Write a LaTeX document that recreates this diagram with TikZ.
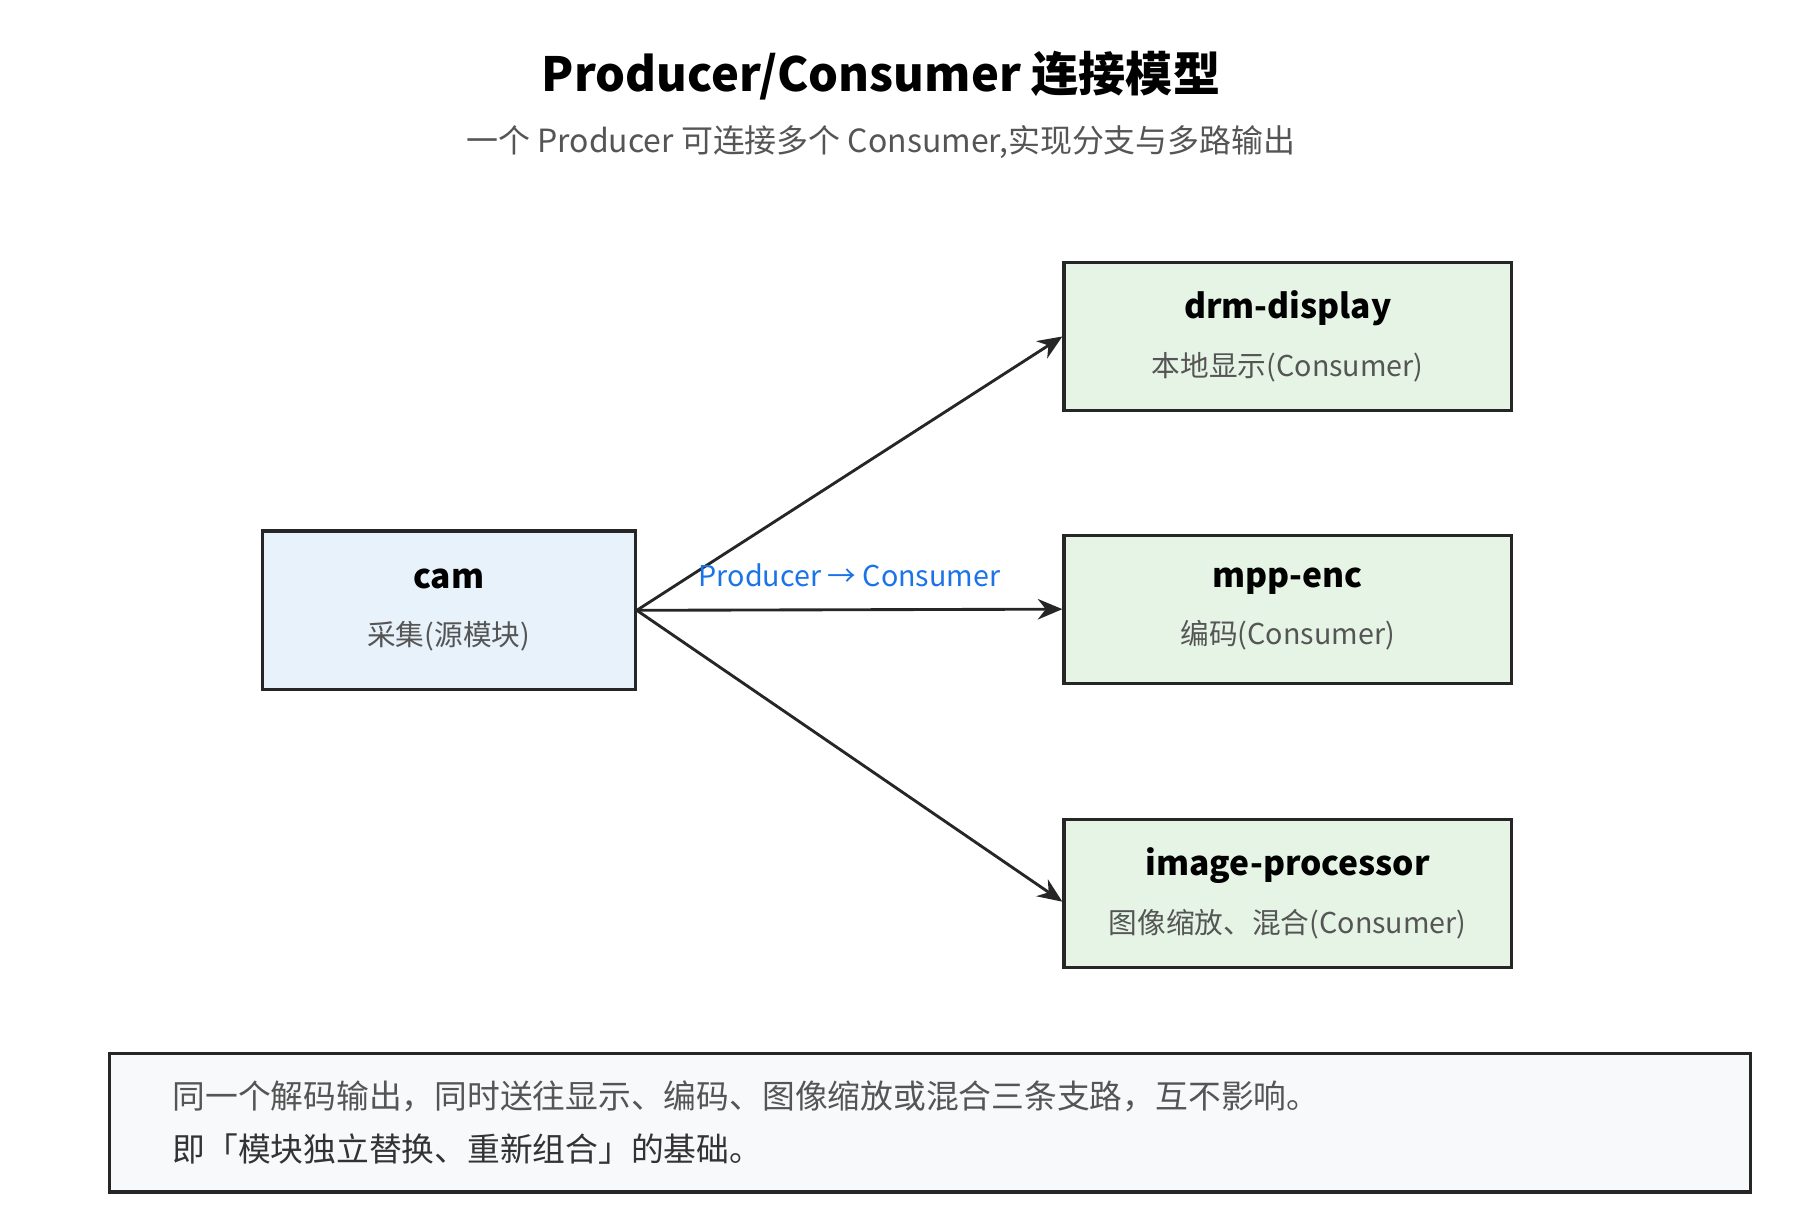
\documentclass[tikz,border=0pt]{standalone}
\usepackage{fontspec}
\setmainfont{Noto Sans CJK SC}
\usetikzlibrary{positioning,arrows.meta}
\definecolor{srcfill}{HTML}{E8F2FA}
\definecolor{dstfill}{HTML}{E6F4E6}
\definecolor{notefill}{HTML}{F8F9FB}
\definecolor{subgray}{HTML}{555555}
\definecolor{linkblue}{HTML}{1A73E8}
\newcommand{\boxname}[1]{{\fontsize{8.2}{10}\selectfont\bfseries #1}}
\newcommand{\boxrole}[1]{{\color{subgray}\fontsize{7}{8}\selectfont #1}}
\tikzset{
  box/.style={draw=black!85, line width=0.8pt, minimum width=3.84cm, minimum height=1.27cm, align=center},
  link/.style={-{Stealth[length=6pt,width=5pt]}, line width=0.7pt, draw=black!85}
}
\begin{document}
\begin{tikzpicture}
\useasboundingbox (0,0) rectangle (15.6,10.537);

% title
\node (title) at (7.56,9.89) {\fontsize{11.5}{14}\selectfont\bfseries Producer/Consumer 连接模型};
\node[text=subgray, font=\fontsize{7.8}{9}\selectfont] (subtitle) at (7.56,9.32) {一个 Producer 可连接多个 Consumer,实现分支与多路输出};

% source
\node[box, fill=srcfill, minimum width=3.2cm, minimum height=1.36cm] (cam) at (3.85,5.30)
  {\boxname{cam}\\[2pt]\boxrole{采集(源模块)}};

% consumers
\node[box, fill=dstfill] (drm) at (11.05,7.65) {\boxname{drm-display}\\[2pt]\boxrole{本地显示(Consumer)}};
\node[box, fill=dstfill] (enc) at (11.05,5.31) {\boxname{mpp-enc}\\[2pt]\boxrole{编码(Consumer)}};
\node[box, fill=dstfill] (img) at (11.05,2.87) {\boxname{image-processor}\\[2pt]\boxrole{图像缩放、混合(Consumer)}};

% links
\draw[link] (cam.east) -- (drm.west);
\draw[link] (cam.east) -- node[above=2pt, text=linkblue, font=\fontsize{7}{8}\selectfont] {Producer → Consumer} (enc.west);
\draw[link] (cam.east) -- ([yshift=-0.07cm]img.west);

% note
\node[draw=black!85, line width=0.8pt, fill=notefill, minimum width=14.08cm, minimum height=1.19cm,
  text width=13.0cm, align=left, text=subgray, font=\fontsize{8}{12.8}\selectfont] (note) at (7.98,0.905)
  {同一个解码输出，同时送往显示、编码、图像缩放或混合三条支路，互不影响。\\{\color{black!80}即「模块独立替换、重新组合」的基础。}};
\end{tikzpicture}
\end{document}
